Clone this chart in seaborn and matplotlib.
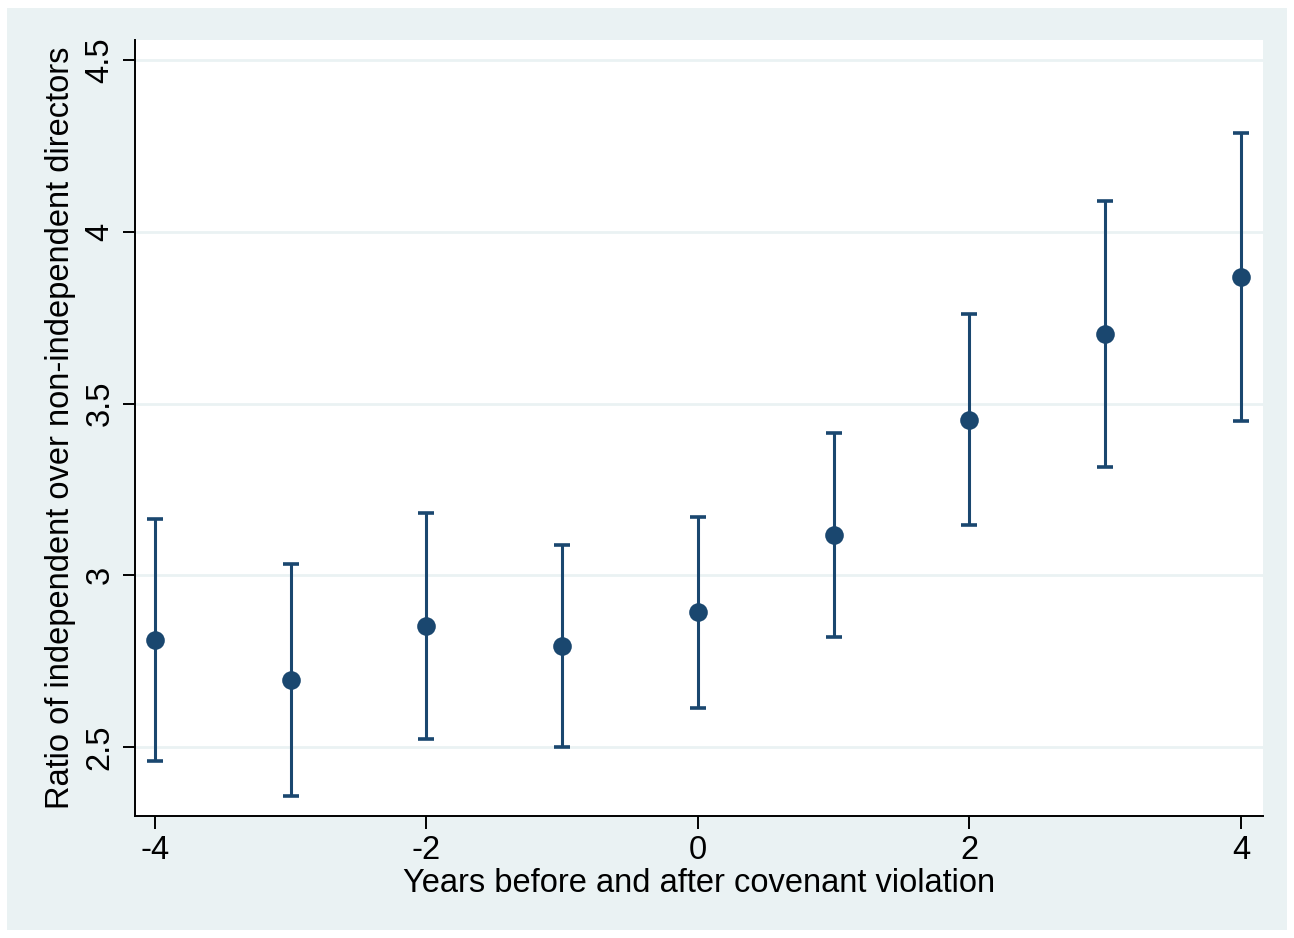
import numpy as np
import pandas as pd
import seaborn as sns
import matplotlib.pyplot as plt
from matplotlib.patches import Rectangle

# Estimates
years = [-4, -3, -2, -1, 0, 1, 2, 3, 4]
ratio = [2.811, 2.695, 2.852, 2.794, 2.893, 3.117, 3.452, 3.702, 3.868]
ci_low = [2.459, 2.357, 2.523, 2.500, 2.614, 2.820, 3.146, 3.315, 3.449]
ci_high = [3.164, 3.033, 3.181, 3.088, 3.170, 3.414, 3.761, 4.090, 4.287]

df = pd.DataFrame({"year": years, "ratio": ratio, "lo": ci_low, "hi": ci_high})

navy = "#1A476F"
panel = "#EAF2F3"

sns.set_style("white")
plt.rcParams["font.family"] = ["Liberation Sans", "DejaVu Sans"]
plt.rcParams["axes.unicode_minus"] = False
plt.rcParams["text.color"] = "black"
plt.rcParams["axes.labelcolor"] = "black"
plt.rcParams["xtick.color"] = "black"
plt.rcParams["ytick.color"] = "black"

fig = plt.figure(figsize=(12.94, 9.38), dpi=100, facecolor="white")
fig.patches.append(Rectangle((7 / 1294, 8 / 938), 1280 / 1294, 922 / 938,
                             transform=fig.transFigure, facecolor=panel,
                             edgecolor="none", zorder=-10))
ax = fig.add_axes([135 / 1294, 122 / 938, 1128 / 1294, 776 / 938])
ax.set_facecolor("white")

ax.errorbar(df["year"], df["ratio"],
            yerr=[df["ratio"] - df["lo"], df["hi"] - df["ratio"]],
            fmt="none", ecolor=navy, elinewidth=2.2, capsize=5.5, capthick=2.6, zorder=2)
sns.scatterplot(data=df, x="year", y="ratio", color=navy, s=180, edgecolor=navy,
                linewidth=0, ax=ax, zorder=3)

ax.set_xlim(-4.147, 4.162)
ax.set_ylim(2.30, 4.558)
ax.set_xticks([-4, -2, 0, 2, 4])
ax.set_xticklabels(["-4", "-2", "0", "2", "4"])
ax.set_yticks([2.5, 3, 3.5, 4, 4.5])
ax.set_yticklabels(["2.5", "3", "3.5", "4", "4.5"], rotation=90, va="center")
ax.grid(axis="y", color=panel, linewidth=2)
ax.set_axisbelow(True)

for s in ["top", "right"]:
    ax.spines[s].set_visible(False)
for s in ["left", "bottom"]:
    ax.spines[s].set_color("black")
    ax.spines[s].set_linewidth(1.4)

ax.tick_params(axis="both", direction="out", length=9, width=1.4, color="black",
               labelcolor="black", labelsize=23.5, pad=5, left=True, bottom=True)
ax.set_xlabel("Years before and after covenant violation", fontsize=23.5, labelpad=1,
              color="black")
ax.set_ylabel("Ratio of independent over non-independent directors", fontsize=23.5,
              labelpad=6, color="black")

fig.savefig("out.png", dpi=100, facecolor="white")
